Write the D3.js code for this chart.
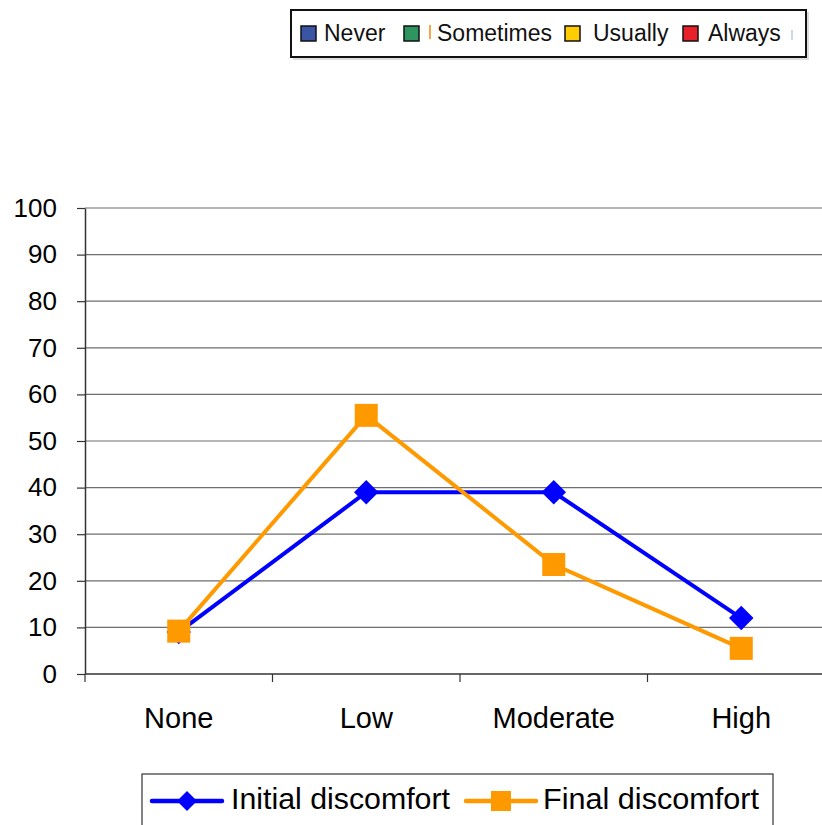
<!DOCTYPE html>
<html>
<head>
<meta charset="utf-8">
<script src="https://cdn.jsdelivr.net/npm/d3@7"></script>
<style>
  body { margin: 0; background: #fff; }
  svg { display: block; font-family: "Liberation Sans", Arial, sans-serif; }
</style>
</head>
<body>
<div id="chart"></div>
<script>
const width = 822;
const height = 825;
const marginTop = 208;
const marginLeft = 85;
const plotBottom = 674;
const plotRight = 835;

const categories = ["None", "Low", "Moderate", "High"];
const initialDiscomfort = [9, 39, 39, 12];
const finalDiscomfort = [9.2, 55.5, 23.5, 5.5];
const yTicks = [0, 10, 20, 30, 40, 50, 60, 70, 80, 90, 100];

// old legend left over on the page
const topLegendLabels = ["Never", "Sometimes", "Usually", "Always"];
const topLegendColors = ["#3a55a4", "#2f9460", "#ffcc00", "#e8202a"];

const series = [
    { name: "Initial discomfort", values: initialDiscomfort, color: "#0000ff", shape: "diamond" },
    { name: "Final discomfort", values: finalDiscomfort, color: "#ff9900", shape: "square" }
];

const svg = d3.select("#chart")
    .append("svg")
    .attr("width", width)
    .attr("height", height)
    .attr("viewBox", [0, 0, width, height]);

const x = d3.scaleBand()
    .domain(categories)
    .range([marginLeft, plotRight])
    .padding(0);

const y = d3.scaleLinear()
    .domain([0, 100])
    .range([plotBottom, marginTop]);

// gridlines
svg.append("g")
    .selectAll("line")
    .data(yTicks.filter(d => d > 0))
    .join("line")
    .attr("x1", marginLeft)
    .attr("x2", width)
    .attr("y1", d => y(d))
    .attr("y2", d => y(d))
    .attr("stroke", "#6e6e6e")
    .attr("stroke-width", 1.2);

// y axis
svg.append("g")
    .attr("transform", `translate(${marginLeft},0)`)
    .call(d3.axisLeft(y).tickValues(yTicks).tickSize(8).tickPadding(20).tickSizeOuter(0))
    .call(g => g.select(".domain").attr("stroke", "#333").attr("stroke-width", 1.5))
    .call(g => g.selectAll(".tick line").attr("stroke", "#333").attr("stroke-width", 1.2))
    .call(g => g.selectAll("text").attr("font-size", 26).attr("fill", "#000")
        .attr("font-family", "Liberation Sans, Arial, sans-serif"));

// x axis (ticks on band edges)
const xg = svg.append("g");
xg.append("line")
    .attr("x1", marginLeft).attr("x2", width)
    .attr("y1", plotBottom).attr("y2", plotBottom)
    .attr("stroke", "#333").attr("stroke-width", 1.5);
xg.selectAll("line.tk")
    .data(categories)
    .join("line")
    .attr("class", "tk")
    .attr("x1", d => x(d)).attr("x2", d => x(d))
    .attr("y1", plotBottom).attr("y2", plotBottom + 8)
    .attr("stroke", "#333").attr("stroke-width", 1.2);
xg.selectAll("text")
    .data(categories)
    .join("text")
    .attr("x", d => x(d) + x.bandwidth() / 2)
    .attr("y", 718)
    .attr("dy", "0.35em")
    .attr("text-anchor", "middle")
    .attr("font-size", 29)
    .text(d => d);

const symbolFor = (shape, big) => shape === "diamond"
    ? d3.symbol(d3.symbolSquare, big ? 300 : 200)
    : d3.symbol(d3.symbolSquare, big ? 530 : 400);

const line = d3.line()
    .x((d, i) => x(categories[i]) + x.bandwidth() / 2)
    .y(d => y(d));

series.forEach(s => {
    const g = svg.append("g");
    g.append("path")
        .datum(s.values)
        .attr("fill", "none")
        .attr("stroke", s.color)
        .attr("stroke-width", 4)
        .attr("d", line);
    g.selectAll("path.m")
        .data(s.values)
        .join("path")
        .attr("class", "m")
        .attr("transform", (d, i) => `translate(${x(categories[i]) + x.bandwidth() / 2},${y(d)})` +
            (s.shape === "diamond" ? " rotate(45)" : ""))
        .attr("d", symbolFor(s.shape, true))
        .attr("fill", s.color);
});

// top legend
const tl = svg.append("g");
tl.append("rect")
    .attr("x", 293).attr("y", 12).attr("width", 516).attr("height", 48)
    .attr("fill", "#ddd");
tl.append("rect")
    .attr("x", 291).attr("y", 10).attr("width", 515).attr("height", 47)
    .attr("fill", "#fff").attr("stroke", "#111").attr("stroke-width", 2);
const topItemX = [301, 404, 565, 683];
const topTextX = [324, 437, 593, 708];
tl.selectAll("rect.sw")
    .data(topLegendColors)
    .join("rect")
    .attr("class", "sw")
    .attr("x", (d, i) => topItemX[i])
    .attr("y", 26)
    .attr("width", 15).attr("height", 15)
    .attr("fill", d => d)
    .attr("stroke", "#111").attr("stroke-width", 1.5);
tl.selectAll("text")
    .data(topLegendLabels)
    .join("text")
    .attr("x", (d, i) => topTextX[i])
    .attr("y", 33)
    .attr("dy", "0.35em")
    .attr("font-size", 23)
    .attr("fill", "#111")
    .text(d => d);
// stray fragments
tl.append("rect").attr("x", 429).attr("y", 25).attr("width", 2).attr("height", 14).attr("fill", "#f3a54a");
tl.append("rect").attr("x", 791).attr("y", 30).attr("width", 2).attr("height", 10).attr("fill", "#c8d8ee");

// bottom legend
const bl = svg.append("g");
bl.append("rect")
    .attr("x", 142).attr("y", 774).attr("width", 631).attr("height", 70)
    .attr("fill", "#fff").attr("stroke", "#333").attr("stroke-width", 1.2);
const legY = 801;
const legLineX = [152, 466];
const legTextX = [231, 543];
const legTextW = [219, 216];
series.forEach((s, i) => {
    bl.append("line")
        .attr("x1", legLineX[i]).attr("x2", legLineX[i] + 70)
        .attr("y1", legY).attr("y2", legY)
        .attr("stroke", s.color).attr("stroke-width", 4.5).attr("stroke-linecap", "round");
    bl.append("path")
        .attr("transform", `translate(${legLineX[i] + 35},${legY})` + (s.shape === "diamond" ? " rotate(45)" : ""))
        .attr("d", symbolFor(s.shape, false))
        .attr("fill", s.color);
    bl.append("text")
        .attr("x", legTextX[i])
        .attr("y", legY - 3)
        .attr("dy", "0.35em")
        .attr("font-size", 30)
        .attr("textLength", legTextW[i])
        .attr("lengthAdjust", "spacingAndGlyphs")
        .text(s.name);
});
</script>
</body>
</html>
